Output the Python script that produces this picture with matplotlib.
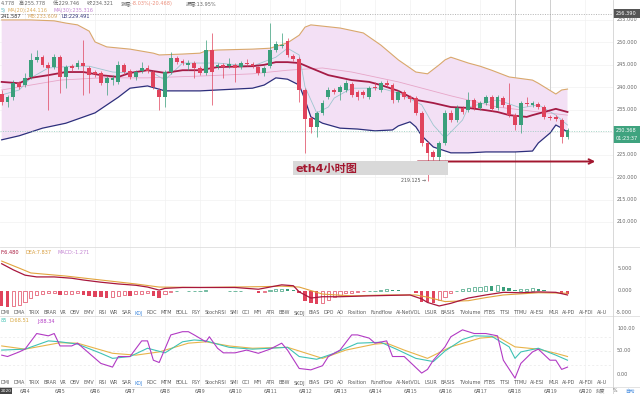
import matplotlib
matplotlib.use("Agg")
import matplotlib.pyplot as plt
from matplotlib.patches import Rectangle
import numpy as np

plt.rcParams['font.family'] = ['DejaVu Sans', 'Noto Sans CJK SC']

W, H = 640, 394

# ---------------- data ----------------
opens = [238.5, 236.7, 237.8, 241.0, 240.5, 242.3, 246.1, 246.7, 245.0, 244.5,
         246.7, 242.3, 244.7, 244.5, 245.4, 244.3, 243.4, 243.2, 241.0, 241.6,
         241.2, 245.0, 243.6, 242.3, 243.6, 244.3, 243.4, 239.4, 237.8, 243.4,
         246.5, 245.9, 245.0, 245.4, 244.3, 243.2, 248.3, 244.5, 245.0, 244.7,
         245.0, 244.5, 245.4, 245.2, 244.5, 243.2, 244.7, 248.3, 249.2, 250.3,
         247.0, 246.3, 239.4, 233.2, 231.2, 234.3, 237.8, 239.4, 239.0, 239.4,
         240.7, 239.0, 239.0, 237.8, 240.1, 239.4, 241.0, 240.5, 237.2, 239.0,
         237.8, 237.6, 234.3, 227.6, 225.6, 224.5, 227.6, 234.3, 232.7, 235.4,
         234.9, 237.2, 235.4, 236.5, 237.8, 235.4, 237.6, 236.1, 233.8, 231.6,
         236.5, 236.1, 236.3, 235.6, 233.4, 233.4, 232.7, 228.9]
highs = [239.4, 238.3, 241.6, 241.4, 243.2, 247.6, 248.3, 247.2, 245.6, 247.4,
         247.2, 245.0, 245.2, 246.1, 250.5, 244.7, 243.9, 243.6, 242.5, 242.7,
         245.9, 245.4, 244.1, 243.9, 245.6, 245.0, 243.9, 239.8, 243.9, 247.9,
         247.0, 246.3, 246.1, 245.9, 244.7, 250.5, 252.1, 245.4, 245.4, 246.5,
         245.4, 245.9, 246.3, 245.6, 244.7, 244.7, 254.3, 250.3, 252.1, 250.9,
         247.4, 246.7, 239.8, 233.6, 234.7, 237.2, 240.1, 239.8, 240.5, 241.6,
         241.2, 239.4, 239.4, 240.3, 241.2, 241.4, 241.6, 240.9, 239.4, 239.4,
         238.3, 238.1, 234.7, 228.0, 226.0, 228.0, 234.9, 234.9, 236.1, 235.8,
         239.0, 237.6, 236.9, 238.3, 238.3, 238.3, 238.1, 240.9, 234.3, 237.0,
         237.8, 236.9, 236.7, 236.1, 233.8, 233.8, 233.2, 230.9]
lows = [236.1, 235.6, 237.2, 239.6, 240.1, 241.8, 245.6, 244.5, 234.9, 244.1,
        238.7, 239.8, 243.6, 244.1, 238.3, 238.7, 242.3, 240.5, 238.3, 240.5,
        240.7, 242.7, 241.8, 241.6, 243.2, 243.2, 239.6, 234.9, 235.6, 243.0,
        245.2, 245.0, 243.9, 242.1, 242.7, 242.7, 236.1, 244.1, 242.1, 244.3,
        241.2, 244.1, 244.7, 244.3, 242.7, 242.5, 244.3, 247.9, 248.8, 246.7,
        245.9, 236.7, 225.4, 229.8, 228.9, 233.8, 237.4, 238.5, 237.2, 239.0,
        237.8, 237.2, 237.6, 237.4, 239.4, 239.0, 240.1, 236.5, 236.7, 237.4,
        236.7, 233.8, 226.9, 219.125, 223.8, 221.6, 227.1, 232.3, 232.3, 234.0,
        234.5, 235.0, 235.0, 236.1, 234.7, 235.0, 235.6, 233.4, 230.5, 229.8,
        235.8, 235.6, 235.2, 232.9, 232.7, 232.5, 227.6, 228.5]
closes = [236.7, 237.8, 241.0, 240.1, 242.1, 246.1, 246.7, 245.0, 244.3, 246.7,
          242.3, 244.5, 244.3, 245.4, 244.7, 242.7, 243.0, 241.0, 242.1, 242.1,
          245.0, 243.4, 242.3, 243.4, 244.3, 243.6, 240.1, 237.8, 243.4, 246.5,
          245.6, 245.4, 245.4, 244.3, 243.2, 248.3, 243.4, 245.0, 244.5, 245.2,
          244.3, 245.4, 245.2, 244.7, 243.2, 244.3, 248.3, 249.6, 249.4, 247.2,
          246.3, 239.4, 232.9, 231.2, 234.3, 236.5, 239.4, 239.0, 240.1, 241.0,
          238.3, 237.8, 238.3, 239.8, 239.8, 241.0, 240.5, 237.2, 239.0, 237.8,
          237.4, 234.3, 227.6, 225.4, 224.5, 227.6, 234.3, 232.7, 235.4, 234.5,
          237.2, 235.4, 236.5, 237.8, 235.2, 237.8, 236.1, 233.8, 231.6, 236.5,
          236.3, 236.5, 235.6, 233.4, 233.2, 232.9, 228.9, 230.4]

# Bollinger bands (sampled)
up_idx = [0, 5, 9, 11, 13, 15, 16, 18, 22, 26, 27, 31, 34, 35, 37, 43, 46, 49, 51, 52,
          53, 58, 62, 65, 68, 71, 73, 75, 76, 77, 80, 82, 84, 87, 91, 92, 95, 96, 97]
up_val = [255.0, 255.0, 254.8, 254.3, 253.9, 252.5, 250.1, 249.0, 248.5, 247.6, 247.2,
          247.4, 247.6, 248.1, 248.3, 248.5, 248.7, 249.9, 251.6, 253.4, 253.9, 253.2,
          252.1, 249.4, 246.1, 243.4, 243.0, 245.0, 246.1, 246.7, 245.4, 244.7, 243.8,
          242.3, 241.6, 240.9, 238.5, 239.4, 239.6]
mid_idx = [0, 3, 5, 8, 11, 14, 17, 20, 22, 25, 28, 31, 34, 37, 43, 45, 47, 49, 51, 53,
           56, 60, 63, 65, 68, 71, 74, 77, 80, 83, 85, 87, 90, 91, 93, 95, 97]
mid_val = [241.2, 240.9, 242.1, 242.7, 243.4, 243.4, 242.7, 242.3, 243.2, 243.8, 243.2,
           243.8, 243.8, 244.5, 244.7, 245.0, 245.6, 245.6, 245.4, 244.3, 242.7, 241.6,
           241.2, 240.5, 239.2, 237.2, 236.5, 235.6, 235.4, 234.9, 234.5, 233.8, 233.4,
           233.8, 234.5, 235.2, 234.5]
low_idx = [0, 3, 7, 11, 16, 20, 22, 25, 28, 34, 37, 43, 45, 47, 49, 51, 52, 53, 55, 58,
           61, 64, 67, 68, 70, 71, 72, 74, 77, 80, 83, 85, 88, 91, 92, 94, 95, 96, 97]
low_val = [228.3, 229.2, 230.9, 232.0, 234.3, 237.8, 239.8, 240.3, 239.2, 239.2, 239.4,
           239.8, 240.5, 242.1, 241.8, 240.5, 237.2, 233.4, 232.0, 230.9, 230.7, 230.3,
           230.5, 231.4, 232.3, 231.2, 229.2, 226.7, 225.4, 225.4, 225.6, 225.6, 225.6,
           225.8, 227.6, 229.8, 231.6, 230.9, 230.0]
# thin moving averages (sampled)
ma_slow_idx = [0, 5, 10, 17, 25, 34, 43, 49, 55, 60, 68, 77, 85, 92, 97]
ma_slow_val = [239.4, 240.5, 241.6, 242.1, 242.1, 242.5, 243.0, 243.8, 244.3, 243.4,
               241.2, 238.1, 235.6, 234.5, 233.8]
ma_fast_idx = [0, 3, 5, 8, 12, 15, 19, 22, 25, 28, 31, 37, 43, 47, 49, 51, 52, 54, 56,
               57, 60, 65, 68, 72, 74, 76, 79, 80, 85, 89, 92, 95, 97]
ma_fast_val = [238.3, 239.4, 242.1, 244.3, 244.7, 244.7, 243.4, 243.2, 243.9, 241.6,
               245.4, 245.4, 244.7, 246.7, 248.7, 247.2, 240.1, 234.3, 235.6, 237.6,
               239.8, 239.8, 238.7, 236.1, 231.6, 228.7, 232.7, 235.6, 237.2, 235.4,
               236.1, 233.8, 231.6]

# MACD
macd_hist = [-3.4, -3.7, -3.4, -3.2, -2.4, -1.7, -0.8, -0.7, -0.5, -0.4,
             -0.9, -0.7, -0.6, -0.5, -0.9, -1.1, -1.3, -1.4, -1.5, -1.3,
             -1.1, -0.9, -1.1, -0.7, -0.6, -0.5, -1.1, -1.5, -0.7, -0.2,
             0.05, -0.05, 0.05, 0.08, 0.1, 0.2, 0.1, 0.08, 0.05, 0.05,
             0.05, 0.1, 0.06, -0.05, -0.4, -0.3, 0.3, 0.4, 0.45, 0.4,
             0.3, -0.5, -2.2, -2.8, -3.0, -2.7, -2.0, -1.3, -0.8, -0.5,
             -0.4, -0.2, -0.1, 0.05, 0.1, 0.3, 0.35, 0.2, 0.15, 0.05,
             0.02, -0.4, -2.4, -2.6, -2.7, -2.0, -1.3, -0.5, 0.1, 0.4,
             0.7, 0.8, 1.0, 1.2, 1.1, 1.3, 1.0, 0.6, 0.3, 0.5,
             0.55, 0.6, 0.5, 0.3, 0.1, 0.02, -0.6, -0.7]
dif_idx = [0, 2, 4, 6, 9, 12, 14, 17, 20, 23, 25, 27, 28, 31, 35, 40, 44, 46, 48, 50,
           51, 53, 55, 58, 63, 70, 72, 73, 75, 77, 80, 83, 86, 89, 92, 95, 97]
dif_val = [6.2, 4.8, 3.6, 3.2, 3.2, 2.9, 2.5, 2.0, 1.6, 1.3, 0.9, 0.2, 0.6, 0.8, 0.8,
           0.8, 0.4, 0.9, 1.4, 1.2, -0.2, -1.6, -1.3, -1.3, -1.1, -0.9, -1.8, -2.6,
           -3.4, -2.8, -1.6, -0.9, -0.3, -0.4, -0.2, -0.3, -0.9]
dea_idx = [0, 3, 5, 11, 17, 23, 27, 34, 45, 48, 51, 55, 60, 66, 71, 73, 76, 80, 83,
           86, 92, 97]
dea_val = [6.8, 5.2, 4.1, 3.4, 2.5, 1.6, 0.9, 0.8, 1.0, 1.1, 0.9, -0.7, -1.1, -0.9,
           -0.9, -1.4, -2.4, -2.2, -1.5, -0.9, -0.4, -0.5]

# KDJ
k_idx = [0, 4, 8, 10, 13, 17, 19, 22, 25, 28, 31, 33, 35, 39, 43, 49, 51, 54, 57, 61,
         65, 68, 71, 74, 76, 79, 81, 84, 87, 88, 89, 92, 95, 97]
k_val = [52, 54, 72, 70, 65, 45, 34, 38, 56, 46, 70, 74, 72, 58, 54, 58, 38, 32, 45,
         67, 69, 52, 34, 27, 50, 75, 83, 82, 59, 34, 48, 56, 41, 30]
d_idx = [0, 4, 10, 13, 19, 23, 27, 32, 35, 39, 43, 49, 55, 59, 64, 66, 69, 73, 77, 82,
         85, 88, 92, 95, 97]
d_val = [61, 54, 68, 67, 45, 41, 48, 67, 70, 61, 56, 58, 34, 52, 65, 67, 52, 34, 59,
         78, 81, 59, 54, 45, 38]
j_idx = [0, 1, 3, 4, 6, 8, 9, 10, 12, 13, 15, 17, 19, 20, 22, 24, 25, 26, 27, 29, 31,
         32, 33, 35, 35.6, 37, 38, 40, 42, 44, 46, 48, 49, 51, 53, 55, 56, 58, 60, 61,
         63, 64, 66, 67, 69, 72, 73, 74, 76, 77, 79, 81, 83, 85, 86, 88, 89, 91, 92, 94,
         95, 96, 97]
j_val = [41, 38, 48, 54, 88, 83, 88, 61, 61, 67, 45, 23, 15, 38, 38, 72, 72, 30, 25, 85,
         92, 92, 85, 70, 81, 56, 46, 46, 52, 45, 54, 67, 52, 12, 9, 18, 38, 52, 85, 85,
         78, 67, 72, 38, 38, 2, 10, 30, 59, 81, 96, 88, 88, 83, 30, -9, 23, 48, 54, 30,
         30, 10, 15]

date_labels = ["6月4", "6月5", "6月6", "6月7", "6月8", "6月9", "6月10", "6月11", "6月12",
               "6月13", "6月14", "6月15", "6月16", "6月17", "6月18", "6月19", "6月20"]
date_idx = [4 + 6 * k for k in range(len(date_labels))]

tab_labels = ["DMI", "DMA", "TRIX", "BRAR", "VR", "OBV", "EMV", "RSI", "WR", "SAR", "KDJ",
              "ROC", "MTM", "BOLL", "PSY", "StochRSI", "SMI", "CCI", "MFI", "ATR", "BBW",
              "SKDJ", "BIAS", "DPO", "AO", "Position", "Fundflow", "AI-NetVOL", "LSUR",
              "BASIS", "TVolume", "FTBS", "TTSI", "TTMU", "AI-ESI", "MLR", "AI-PD",
              "AI-FDI", "AI-U"]

price_ticks = [210, 215, 220, 225, 235, 240, 245, 250, 255]
macd_ticks = [5, 0, -5]
kdj_ticks = [100, 50, 0]
last_price = 230.368
high_mark = 256.390

# ---------------- style ----------------
GREEN = '#3a9f7b'
RED = '#e0435c'
GRID = '#f1f1f1'
TXT = '#666666'

fig = plt.figure(figsize=(W / 100, H / 100), dpi=100)
fig.patch.set_facecolor('white')

XL = (-0.291, 104.8)


def add_ax(x0, y0, x1, y1):
    a = fig.add_axes([x0 / W, 1 - y1 / H, (x1 - x0) / W, (y1 - y0) / H])
    a.set_xlim(*XL)
    for s in a.spines.values():
        s.set_visible(False)
    a.set_xticks([])
    a.set_yticks([])
    a.patch.set_alpha(0)
    return a


def ftxt(x, y, s, **kw):
    kw.setdefault('fontsize', 3.6)
    kw.setdefault('va', 'center')
    return fig.text(x / W, 1 - y / H, s, **kw)


# ---------------- main price panel ----------------
ax = add_ax(0, 0, 613, 247)
ax.set_ylim(204.43, 259.44)
for p in range(210, 260, 5):
    ax.axhline(p, color=GRID, lw=0.5, zorder=0)
for d in date_idx:
    ax.axvline(d, color=GRID, lw=0.5, zorder=0)
ax.axvline(date_idx[14], color='#cfcfcf', lw=0.7, zorder=1)
ax.axvline(date_idx[15], color='#cfcfcf', lw=0.7, zorder=1)

ax.fill(np.r_[up_idx, low_idx[::-1]], np.r_[up_val, low_val[::-1]],
        color='#f3e0f5', lw=0, zorder=1)
ax.plot(up_idx, up_val, color='#d9a86c', lw=0.8, zorder=2)
ax.plot(low_idx, low_val, color='#2d2f7c', lw=0.9, zorder=2)
ax.plot(ma_slow_idx, ma_slow_val, color='#e7a6c8', lw=0.6, zorder=2)
ax.plot(ma_fast_idx, ma_fast_val, color='#9ec6cf', lw=0.6, zorder=2)
ax.plot(mid_idx, mid_val, color='#a51c46', lw=1.3, zorder=2)

ax.axhline(high_mark, color='#9a9a9a', lw=0.5, ls=(0, (1.5, 2)), zorder=2)
ax.axhline(last_price, color='#8cc7b6', lw=0.5, ls=(0, (1.5, 2)), zorder=2)

idx = np.arange(len(opens))
o = np.array(opens); c = np.array(closes)
hi = np.array(highs); lo = np.array(lows)
cols = np.where(c >= o, GREEN, RED)
ax.vlines(idx, lo, hi, colors=cols, lw=0.5, zorder=3)
body_b = np.minimum(o, c)
body_h = np.maximum(np.abs(c - o), 0.18)
ax.bar(idx, body_h, bottom=body_b, width=0.64, color=cols, lw=0, zorder=4)

# annotation: grey box, title, arrow
fig.add_artist(Rectangle((293 / W, 1 - 175 / H), 155 / W, 14 / H,
                         transform=fig.transFigure, color='#d9d9d9', lw=0, zorder=5))
ftxt(295, 168.5, 'eth4小时图', fontsize=8, color='#a3172f', fontweight='bold',
     family=['DejaVu Sans', 'Noto Sans CJK SC'], zorder=6)
ax.annotate('', xy=(598, H - 161.5), xytext=(415, H - 161.5),
            xycoords='figure pixels', textcoords='figure pixels',
            arrowprops=dict(arrowstyle='->', color='#a3172f', lw=1.4,
                            mutation_scale=8), zorder=6)
ftxt(426, 181, '%.3f →' % min(lows), ha='right', color='#555555', fontsize=3.4)

# header legends (left parts are cut by the window edge in the source)
ftxt(0.5, 3.5, '4.778', color=TXT)
ftxt(19, 3.5, '高:255.778', color=TXT)
ftxt(53, 3.5, '低:229.746', color=TXT)
ftxt(87, 3.5, '收:234.321', color=TXT)
ftxt(121, 3.5, '涨幅:', color=TXT)
ftxt(132, 3.5, '-8.03%(-20.468)', color='#ec8f7c')
ftxt(186, 3.5, '振幅:13.95%', color=TXT)
ftxt(0.5, 10.5, '5)', color='#62b9c2')
ftxt(8, 10.5, 'MA(20):244.116', color='#dcae60')
ftxt(53, 10.5, 'MA(30):235.316', color='#c384d2')
ftxt(0.5, 17, '241.587', color='#333333')
ftxt(27, 17, 'MB:233.609', color='#d9a860')
ftxt(62, 17, 'LB:229.491', color='#33357c')

# ---------------- MACD panel ----------------
am = add_ax(0, 247, 613, 316)
am.set_ylim(-5.68, 10.0)
for d in date_idx:
    am.axvline(d, color=GRID, lw=0.5, zorder=0)
prev = None
for i, v in enumerate(macd_hist):
    col = GREEN if v >= 0 else RED
    filled = prev is None or v < prev
    if filled:
        am.bar(i, v, width=0.6, color=col, lw=0, zorder=3)
    else:
        am.bar(i, v, width=0.55, facecolor='white', edgecolor=col, lw=0.5, zorder=3)
    prev = v
am.plot(dea_idx, dea_val, color='#e2a43e', lw=0.8, zorder=4)
am.plot(dif_idx, dif_val, color='#a8173d', lw=0.9, zorder=4)
ftxt(0.5, 252, 'F:6.480', color='#a8173d')
ftxt(25, 252, 'DEA:7.837', color='#d79c3a')
ftxt(58, 252, 'MACD:-1.271', color='#c384d2')

# ---------------- KDJ panel ----------------
ak = add_ax(0, 316, 613, 386)
ak.set_ylim(-26.1, 126.1)
for lvl in (20, 50, 80):
    ak.axhline(lvl, color='#e9e9e9', lw=0.5, ls=(0, (3, 3)), zorder=0)
for d in date_idx:
    ak.axvline(d, color=GRID, lw=0.5, zorder=0)
ak.plot(d_idx, d_val, color='#e8b44a', lw=0.8, zorder=3)
ak.plot(k_idx, k_val, color='#3fc2b4', lw=0.8, zorder=3)
ak.plot(j_idx, j_val, color='#b23ac4', lw=0.8, zorder=3)
ftxt(0.5, 321, '85', color='#3fc2b4')
ftxt(10, 321, 'D:68.51', color='#d7a63d')
ftxt(37, 321, 'J:88.34', color='#b23ac4')

# ---------------- separators & right axis ----------------
for yy in (247, 316, 387):
    fig.add_artist(plt.Line2D([0, 1], [1 - yy / H] * 2, transform=fig.transFigure,
                              color='#dedede', lw=0.6))
fig.add_artist(plt.Line2D([613 / W] * 2, [0, 1], transform=fig.transFigure,
                          color='#d2d2d2', lw=0.6))

for p in price_ticks:
    y = (259.44 - p) * 4.49
    ftxt(617, y, '%.3f' % p, color=TXT)
for v in macd_ticks:
    y = 291 - 4.4 * v
    ftxt(618 if v >= 0 else 615.5, y, '%.3f' % v, color=TXT)
for v in kdj_ticks:
    y = 374 - 0.46 * v
    ftxt(617, y, '%.2f' % v, color=TXT)

# price boxes
yh = (259.44 - high_mark) * 4.49
fig.add_artist(Rectangle((613 / W, 1 - (yh + 4.5) / H), 27 / W, 9 / H,
                         transform=fig.transFigure, color='#555555', lw=0))
ftxt(616, yh, '%.3f' % high_mark, color='white')
yl = (259.44 - last_price) * 4.49
fig.add_artist(Rectangle((613 / W, 1 - (yl + 12.5) / H), 27 / W, 17 / H,
                         transform=fig.transFigure, color='#3fa37f', lw=0))
ftxt(616, yl, '%.3f' % last_price, color='white')
ftxt(616, yl + 8, '01:23:37', color='white')

# ---------------- tab rows & dates ----------------
renderer = fig.canvas.get_renderer()


def tab_row(y):
    ts = []
    for lab in tab_labels:
        col = '#4a8fe0' if lab == 'KDJ' else '#5a5a5a'
        ts.append(ftxt(0, y, lab, color=col, fontsize=3.5))
    ws = [t.get_window_extent(renderer).width for t in ts]
    x0, x1 = 0.5, 607.0
    gap = (x1 - x0 - sum(ws)) / (len(ts) - 1)
    x = x0
    for t, w in zip(ts, ws):
        t.set_x(x / W)
        x += w + gap


tab_row(313)
tab_row(383)

for d, lab in zip(date_idx, date_labels):
    xp = 1.7 + 5.833 * d
    ftxt(xp, 391, lab, ha='center', color=TXT, fontsize=3.4)
fig.add_artist(Rectangle((0, 0), 12 / W, 7 / H, transform=fig.transFigure,
                         color='#444444', lw=0))
ftxt(6, 390.5, '2020', ha='center', color='white', fontsize=3.2)
ftxt(600, 391, '刻度', ha='center', color=TXT, fontsize=3.4)
ftxt(615, 391, '%', ha='center', color=TXT, fontsize=3.4)
ftxt(630, 391, '自动', ha='center', color='#4a8fe0', fontsize=3.4)

fig.savefig('out.png', dpi=100)
